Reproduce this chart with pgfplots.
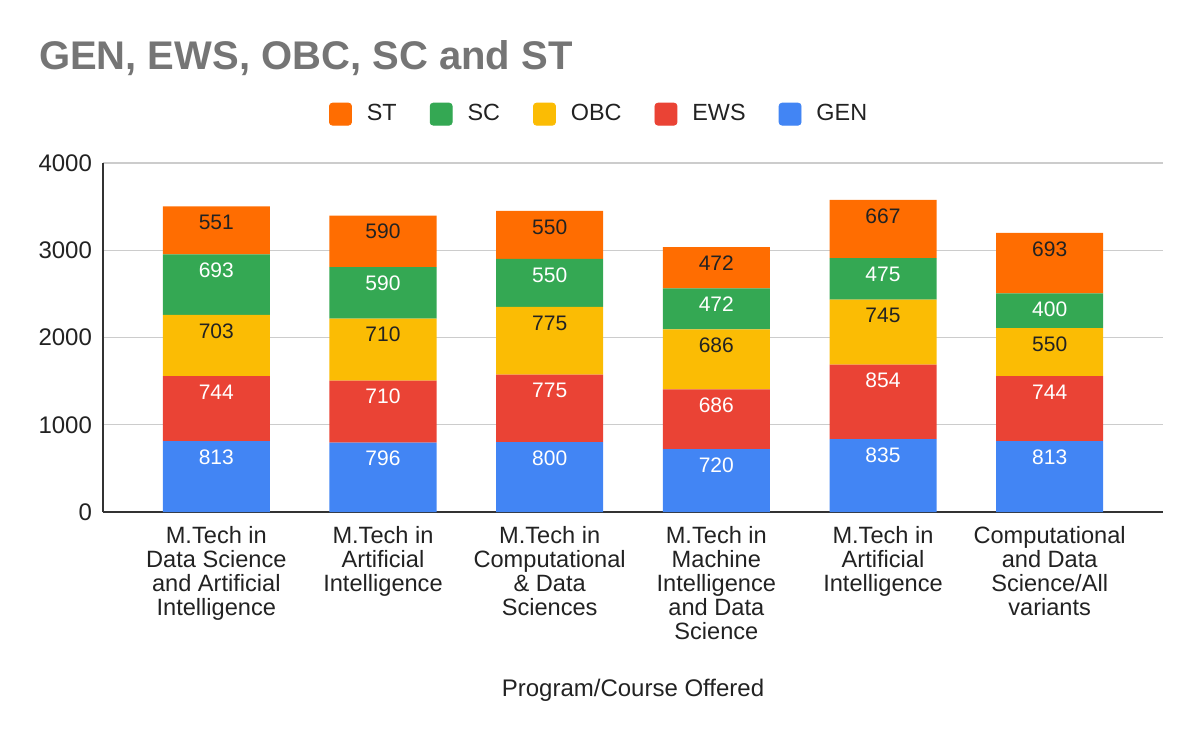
\documentclass[border=0pt]{standalone}
\usepackage{pgfplots}
\pgfplotsset{compat=1.18}
\usepackage{fontspec}
\setmainfont{Liberation Sans}
\definecolor{stc}{HTML}{FF6D01}
\definecolor{scc}{HTML}{34A853}
\definecolor{obcc}{HTML}{FBBC04}
\definecolor{ewsc}{HTML}{EA4335}
\definecolor{genc}{HTML}{4285F4}
\definecolor{titlec}{HTML}{757575}
\definecolor{txtc}{HTML}{222222}
\definecolor{gridc}{HTML}{CCCCCC}
\begin{document}
\begin{tikzpicture}
\path[use as bounding box] (0,0) rectangle (600pt,370pt);
\node[anchor=base west, font=\fontsize{20}{24}\selectfont\bfseries, text=titlec] at (16pt,335pt) {GEN, EWS, OBC, SC and ST};
\begin{axis}[
  at={(51.5pt,114pt)}, anchor=south west,
  scale only axis, width=530pt, height=174.5pt,
  ybar stacked, bar width=53.5pt,
  xmin=-0.68, xmax=5.68, ymin=0, ymax=4000,
  xtick={0,1,2,3,4,5},
  xticklabels={{M.Tech in\\Data Science\\and Artificial\\Intelligence},
               {M.Tech in\\Artificial\\Intelligence},
               {M.Tech in\\Computational\\\& Data\\Sciences},
               {M.Tech in\\Machine\\Intelligence\\and Data\\Science},
               {M.Tech in\\Artificial\\Intelligence},
               {Computational\\and Data\\Science/All\\variants}},
  xticklabel style={align=center, font=\fontsize{11.8}{12}\selectfont, text=txtc, yshift=-3.5pt},
  ytick={0,1000,2000,3000,4000},
  yticklabel style={font=\fontsize{12}{14}\selectfont, text=txtc, xshift=-2pt},
  /pgf/number format/assume math mode=true,
  /pgf/number format/set thousands separator={},
  major tick length=0pt,
  axis x line*=bottom, axis y line*=left,
  axis line style={draw=black!80, line width=0.8pt},
  ymajorgrids, major grid style={gridc, line width=0.6pt},
  xlabel={Program/Course Offered},
  xlabel style={at={(axis description cs:0.5,-0.512)}, anchor=center, font=\fontsize{12}{14}\selectfont, text=txtc},
  legend columns=5,
  legend style={at={(0.469,1.14)}, anchor=center, draw=none, fill=none,
    font=\fontsize{11.7}{14}\selectfont, text=txtc,
    /tikz/every odd column/.append style={column sep=5.5pt},
    /tikz/every even column/.append style={column sep=14.5pt}},
  legend cell align=left,
  nodes near coords,
  point meta=rawy,
  visualization depends on={rawy \as \rawyval},
  every node near coord/.append style={font=\fontsize{10.5}{12}\selectfont, anchor=center,
     yshift={\rawyval*0.0218125pt-8pt}},
  clip=false,
]
\addlegendimage{legend image code/.code={\fill[stc,rounded corners=1.5pt] (0pt,-5.5pt) rectangle (11pt,5.5pt);}}
\addlegendentry{ST}
\addlegendimage{legend image code/.code={\fill[scc,rounded corners=1.5pt] (0pt,-5.5pt) rectangle (11pt,5.5pt);}}
\addlegendentry{SC}
\addlegendimage{legend image code/.code={\fill[obcc,rounded corners=1.5pt] (0pt,-5.5pt) rectangle (11pt,5.5pt);}}
\addlegendentry{OBC}
\addlegendimage{legend image code/.code={\fill[ewsc,rounded corners=1.5pt] (0pt,-5.5pt) rectangle (11pt,5.5pt);}}
\addlegendentry{EWS}
\addlegendimage{legend image code/.code={\fill[genc,rounded corners=1.5pt] (0pt,-5.5pt) rectangle (11pt,5.5pt);}}
\addlegendentry{GEN}
\addplot[fill=genc, draw=none, forget plot, every node near coord/.append style={text=white}]
  coordinates {(0,813) (1,796) (2,800) (3,720) (4,835) (5,813)};
\addplot[fill=ewsc, draw=none, forget plot, every node near coord/.append style={text=white}]
  coordinates {(0,744) (1,710) (2,775) (3,686) (4,854) (5,744)};
\addplot[fill=obcc, draw=none, forget plot, every node near coord/.append style={text=txtc}]
  coordinates {(0,703) (1,710) (2,775) (3,686) (4,745) (5,550)};
\addplot[fill=scc, draw=none, forget plot, every node near coord/.append style={text=white}]
  coordinates {(0,693) (1,590) (2,550) (3,472) (4,475) (5,400)};
\addplot[fill=stc, draw=none, forget plot, every node near coord/.append style={text=txtc}]
  coordinates {(0,551) (1,590) (2,550) (3,472) (4,667) (5,693)};
\end{axis}
\end{tikzpicture}
\end{document}
